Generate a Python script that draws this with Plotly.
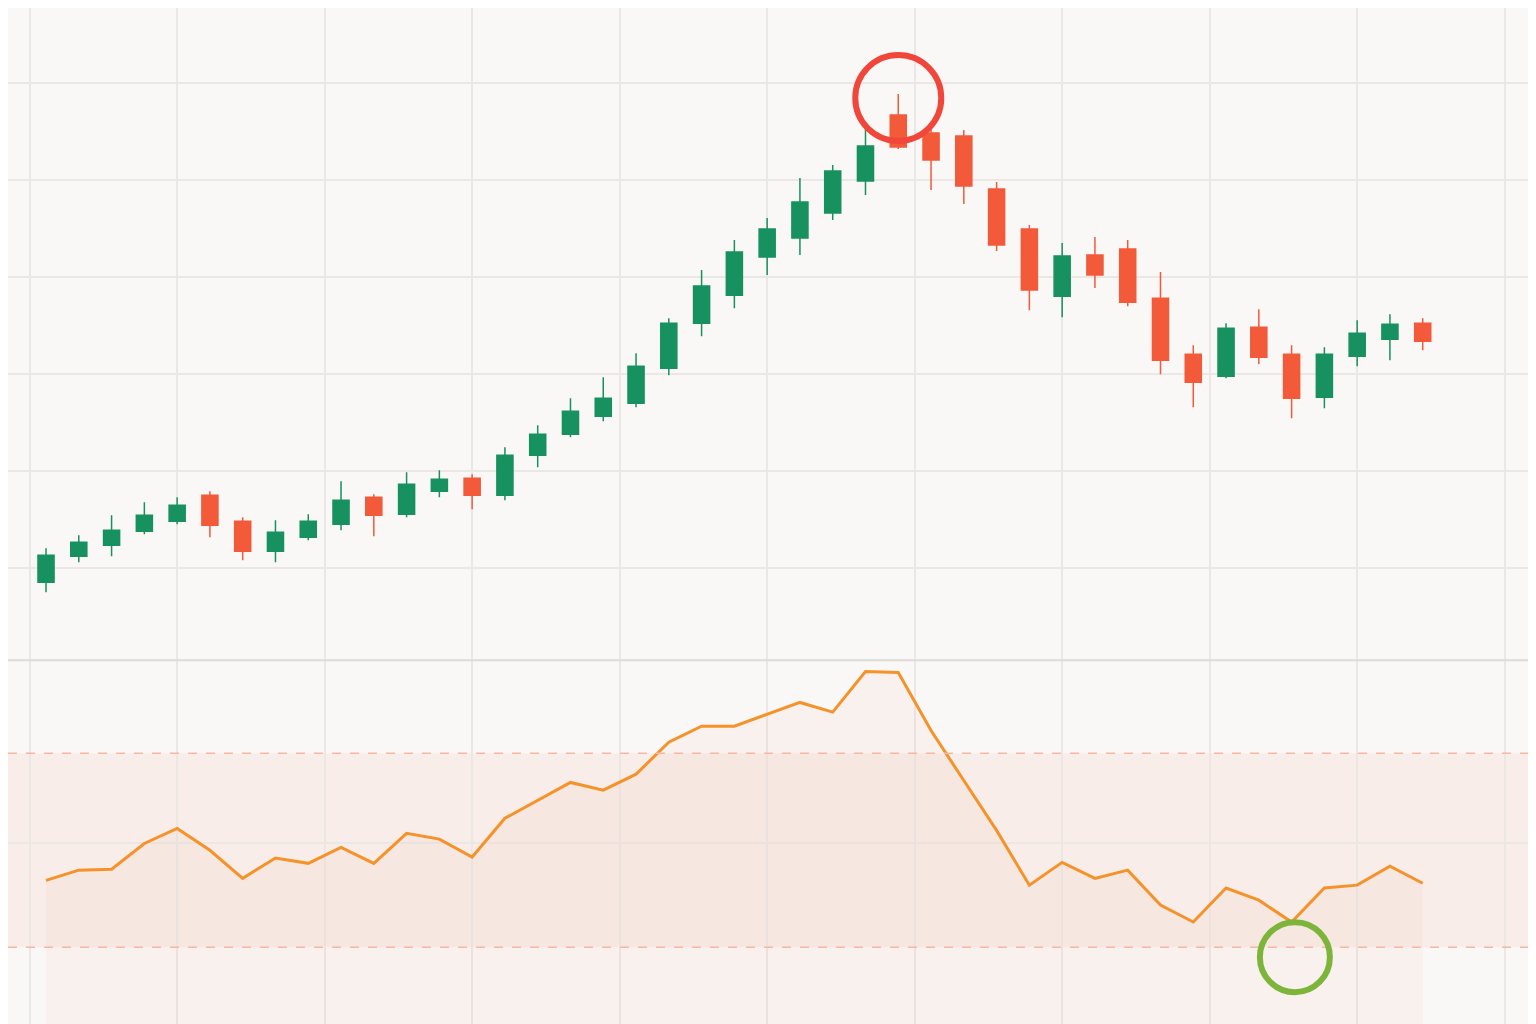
import plotly.graph_objects as go
from plotly.subplots import make_subplots

idx = list(range(43))
opens  = [582,556,545,531,521,495,521,551,537,524,497,514,491,478,495,455,434,416,403,368,323,295,257,238,213,181,115,133,136,189,229,296,255,249,298,354,376,327,354,397,356,339,323]
closes = [555,542,530,515,505,525,551,532,521,500,515,484,479,495,455,434,411,398,366,323,286,252,229,202,171,146,147,160,186,245,290,256,275,302,360,382,328,357,398,354,333,324,341]
highs  = [548,535,515,502,497,491,517,520,514,481,494,472,470,474,447,425,398,377,353,318,270,240,218,178,165,128,94,125,130,182,225,243,237,240,272,345,323,309,345,347,320,314,318]
lows   = [592,562,556,534,524,537,560,562,540,530,536,517,497,509,500,467,437,421,407,375,336,308,275,255,220,195,149,190,204,251,310,317,288,306,374,407,378,364,418,408,366,360,350]
conv = lambda a: [1000 - v for v in a]
rsi = [43.8,45.9,46.1,51.4,54.5,50.0,44.2,48.4,47.3,50.6,47.3,53.5,52.3,48.6,56.6,60.3,64.0,62.4,65.7,72.3,75.6,75.6,78.0,80.5,78.5,86.9,86.7,74.7,64.4,54.1,42.8,47.5,44.2,45.9,38.7,35.2,42.2,39.7,35.2,42.2,42.8,46.7,43.2]

fig = make_subplots(rows=2, cols=1, shared_xaxes=True, vertical_spacing=0, row_heights=[0.637, 0.363])
fig.add_trace(go.Candlestick(x=idx, open=conv(opens), close=conv(closes), high=conv(highs), low=conv(lows),
    increasing=dict(line=dict(color="#16915f", width=1.5), fillcolor="#16915f"),
    decreasing=dict(line=dict(color="#f25a3a", width=1.5), fillcolor="#f25a3a"),
    whiskerwidth=0, showlegend=False), row=1, col=1)
fig.add_trace(go.Scatter(x=idx, y=rsi, mode="lines", line=dict(color="#f5922a", width=3),
    fill="tozeroy", fillcolor="rgba(245,170,150,0.08)", showlegend=False), row=2, col=1)

fig.add_shape(type="rect", xref="paper", x0=0, x1=1, yref="y2", y0=30, y1=70,
    fillcolor="rgba(245,180,160,0.16)", line_width=0, layer="below")
for v in (30, 70):
    fig.add_shape(type="line", xref="paper", x0=0, x1=1, yref="y2", y0=v, y1=v,
        line=dict(color="#f6b8a0", width=1.5, dash="dash"))
fig.add_shape(type="line", xref="paper", x0=0, x1=1, yref="paper", y0=0.363, y1=0.363,
    line=dict(color="#dedad7", width=2))
fig.add_shape(type="circle", xref="x", yref="y", xsizemode="pixel", ysizemode="pixel",
    xanchor=26, yanchor=1000-98, x0=-43, x1=43, y0=-43, y1=43, line=dict(color="#f0473a", width=6))
fig.add_shape(type="circle", xref="x2", yref="y2", xsizemode="pixel", ysizemode="pixel",
    xanchor=38.1, yanchor=70-(957-753)/4.85, x0=-35, x1=35, y0=-35, y1=35, line=dict(color="#7cb53a", width=6))

grid = "#ebe7e4"
ax = dict(showgrid=True, gridcolor=grid, gridwidth=2, tick0=-0.5, dtick=4.5, range=[-1.16, 45.7],
          showticklabels=False, zeroline=False, rangeslider=dict(visible=False))
fig.update_xaxes(**ax)
fig.update_yaxes(showticklabels=False, zeroline=False, showgrid=True, gridcolor=grid, gridwidth=2)
fig.update_yaxes(range=[340, 992], tick0=432, dtick=97, row=1, col=1)
fig.update_yaxes(range=[12.5, 89.2], tickvals=[51.4], row=2, col=1)
fig.update_layout(width=1536, height=1024, margin=dict(l=0, r=0, t=0, b=0),
    paper_bgcolor="#faf8f6", plot_bgcolor="#faf8f6")
fig.write_html("out.html")
